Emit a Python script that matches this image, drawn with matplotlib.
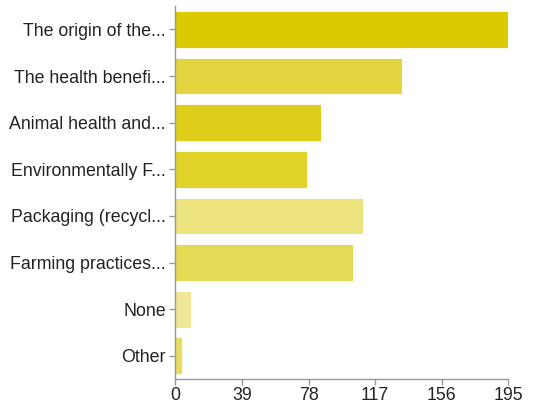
import matplotlib.pyplot as plt

# 数据
categories = ['The origin of the...', 'The health benefi...', 'Animal health and...',
              'Environmentally F...', 'Packaging (recycl...', 'Farming practices...',
              'None', 'Other']
counts = [195, 133, 85, 77, 110, 104, 9, 4]
bar_colors = ['#DCCA00', '#E3D440', '#DECD1A', '#E1D22A',
              '#EEE480', '#E5DA55', '#F0E796', '#E9DD60']
xticks = [0, 39, 78, 117, 156, 195]

plt.rcParams['font.family'] = ['Liberation Sans', 'DejaVu Sans']

fig = plt.figure(figsize=(5.35, 4.09), dpi=100)
ax = fig.add_axes([0.328, 0.073, 0.622, 0.912])

ypos = list(range(len(categories)))
ax.barh(ypos, counts, height=0.79, color=bar_colors, edgecolor='white', linewidth=0.6)

ax.set_xlim(0, 195)
ax.set_ylim(len(categories) - 0.5, -0.5)
ax.set_yticks(ypos)
ax.set_yticklabels(categories, fontsize=12.8, color='#222222')
ax.set_xticks(xticks)
ax.set_xticklabels([str(t) for t in xticks], fontsize=12.8, color='#222222')

for side in ['top', 'right']:
    ax.spines[side].set_visible(False)
for side in ['left', 'bottom']:
    ax.spines[side].set_color('#999999')
    ax.spines[side].set_linewidth(1)
ax.tick_params(axis='y', length=4, color='#999999', width=1, pad=3)
ax.tick_params(axis='x', length=4, color='#999999', width=1, pad=2)

plt.savefig('out.png', dpi=100)
